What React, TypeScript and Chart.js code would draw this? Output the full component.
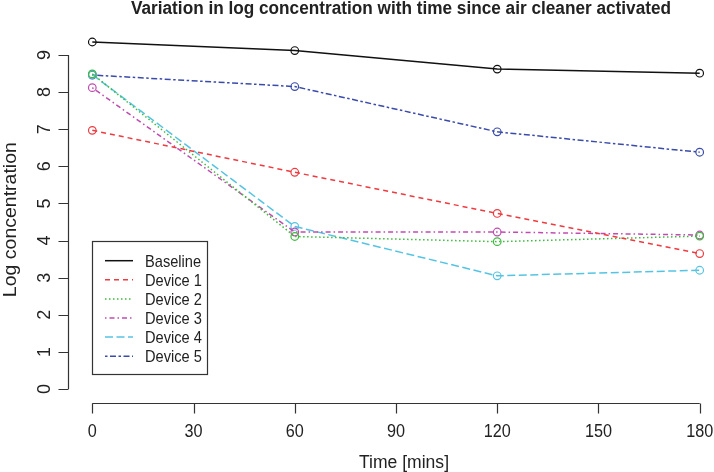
import React, { useEffect, useRef } from "react";
import { Chart, registerables } from "chart.js";

Chart.register(...registerables);

const TITLE = "Variation in log concentration with time since air cleaner activated";
const X_LABEL = "Time [mins]";
const Y_LABEL = "Log concentration";

const TIMES = [0, 60, 120, 180];
const X_TICKS = [0, 30, 60, 90, 120, 150, 180];
const Y_TICKS = [0, 1, 2, 3, 4, 5, 6, 7, 8, 9];

const SERIES_NAMES = ["Baseline", "Device 1", "Device 2", "Device 3", "Device 4", "Device 5"];
const BASELINE = [9.35, 9.12, 8.62, 8.51];
const DEVICE_1 = [6.97, 5.84, 4.73, 3.65];
const DEVICE_2 = [8.49, 4.11, 3.97, 4.12];
const DEVICE_3 = [8.12, 4.23, 4.23, 4.15];
const DEVICE_4 = [8.47, 4.38, 3.05, 3.2];
const DEVICE_5 = [8.46, 8.15, 6.93, 6.38];

const SERIES_VALUES = [BASELINE, DEVICE_1, DEVICE_2, DEVICE_3, DEVICE_4, DEVICE_5];
const COLORS = ["#111111", "#EE3A40", "#3DBB3D", "#C04CB0", "#55C4E2", "#3A4BAA"];
const DASHES: number[][] = [[], [5, 4], [1.5, 2.5], [1.5, 3, 5, 3], [8, 3.5], [2.5, 2.5, 6, 2.5]];

const TEXT_COLOR = "#222222";
const FONT = "'Liberation Sans', Arial, sans-serif";

function drawText(ctx: CanvasRenderingContext2D, text: string, x: number, y: number, font: string, sx: number, align: CanvasTextAlign, baseline: CanvasTextBaseline) {
  ctx.save();
  ctx.font = font;
  ctx.textAlign = align;
  ctx.textBaseline = baseline;
  ctx.fillStyle = TEXT_COLOR;
  ctx.translate(x, y);
  ctx.scale(sx, 1);
  ctx.fillText(text, 0, 0);
  ctx.restore();
}

const rAxesPlugin = {
  id: "rAxes",
  afterDraw(chart: any) {
    const ctx: CanvasRenderingContext2D = chart.ctx;
    const xs = chart.scales.x;
    const ys = chart.scales.y;
    const area = chart.chartArea;
    ctx.save();
    ctx.strokeStyle = "#333333";
    ctx.lineWidth = 1.2;
    ctx.setLineDash([]);

    // x axis
    const xAxisY = Math.round(area.bottom) + 0.5;
    const x0 = xs.getPixelForValue(X_TICKS[0]);
    const x1 = xs.getPixelForValue(X_TICKS[X_TICKS.length - 1]);
    ctx.beginPath();
    ctx.moveTo(x0, xAxisY);
    ctx.lineTo(x1, xAxisY);
    X_TICKS.forEach((t) => {
      const px = Math.round(xs.getPixelForValue(t)) + 0.5;
      ctx.moveTo(px, xAxisY);
      ctx.lineTo(px, xAxisY + 10);
    });
    ctx.stroke();
    X_TICKS.forEach((t) => {
      const px = xs.getPixelForValue(t);
      drawText(ctx, String(t), px, xAxisY + 33, `18px ${FONT}`, 0.9, "center", "alphabetic");
    });

    // y axis
    const yAxisX = Math.round(area.left) + 0.5;
    const y0 = ys.getPixelForValue(Y_TICKS[0]);
    const y1 = ys.getPixelForValue(Y_TICKS[Y_TICKS.length - 1]);
    ctx.beginPath();
    ctx.moveTo(yAxisX, y0);
    ctx.lineTo(yAxisX, y1);
    Y_TICKS.forEach((t) => {
      const py = Math.round(ys.getPixelForValue(t)) + 0.5;
      ctx.moveTo(yAxisX, py);
      ctx.lineTo(yAxisX - 10, py);
    });
    ctx.stroke();
    Y_TICKS.forEach((t) => {
      const py = ys.getPixelForValue(t);
      ctx.save();
      ctx.translate(50, py);
      ctx.rotate(-Math.PI / 2);
      ctx.font = `18px ${FONT}`;
      ctx.textAlign = "center";
      ctx.textBaseline = "alphabetic";
      ctx.fillStyle = TEXT_COLOR;
      ctx.fillText(String(t), 0, 0);
      ctx.restore();
    });

    // title
    ctx.save();
    ctx.font = `bold 18px ${FONT}`;
    const tw = ctx.measureText(TITLE).width;
    ctx.restore();
    drawText(ctx, TITLE, 401, 14, `bold 18px ${FONT}`, 540 / tw, "center", "alphabetic");

    // x label
    ctx.save();
    ctx.font = `18px ${FONT}`;
    const xw = ctx.measureText(X_LABEL).width;
    ctx.restore();
    drawText(ctx, X_LABEL, 404, 468, `18px ${FONT}`, 90 / xw, "center", "alphabetic");

    // y label
    ctx.save();
    ctx.font = `18px ${FONT}`;
    const yw = ctx.measureText(Y_LABEL).width;
    ctx.translate(16, (area.top + area.bottom) / 2 + 8);
    ctx.rotate(-Math.PI / 2);
    ctx.scale(155 / yw, 1);
    ctx.textAlign = "center";
    ctx.textBaseline = "alphabetic";
    ctx.fillStyle = TEXT_COLOR;
    ctx.fillText(Y_LABEL, 0, 0);
    ctx.restore();

    // legend
    ctx.strokeStyle = "#333333";
    ctx.lineWidth = 1.2;
    ctx.setLineDash([]);
    ctx.strokeRect(92.5, 241.5, 115, 133);
    chart.data.datasets.forEach((ds: any, i: number) => {
      const ry = 260.7 + i * 19.1;
      ctx.save();
      ctx.strokeStyle = ds.borderColor;
      ctx.lineWidth = ds.borderWidth;
      ctx.setLineDash(ds.borderDash || []);
      ctx.beginPath();
      ctx.moveTo(105, ry);
      ctx.lineTo(133, ry);
      ctx.stroke();
      ctx.restore();
      drawText(ctx, ds.label, 145, ry + 6, `17px ${FONT}`, 0.86, "left", "alphabetic");
    });
    ctx.restore();
  },
};

export default function App() {
  const ref = useRef<HTMLCanvasElement | null>(null);
  useEffect(() => {
    if (!ref.current) return;
    const datasets = SERIES_NAMES.map((name, i) => ({
      label: name,
      data: TIMES.map((t, j) => ({ x: t, y: SERIES_VALUES[i][j] })),
      borderColor: COLORS[i],
      backgroundColor: "rgba(0,0,0,0)",
      borderWidth: 1.5,
      borderDash: DASHES[i],
      pointStyle: "circle",
      pointRadius: 3.8,
      pointBorderWidth: 1.2,
      pointBorderColor: COLORS[i],
      pointBackgroundColor: "rgba(0,0,0,0)",
      showLine: true,
      tension: 0,
      fill: false,
    }));
    const chart = new Chart(ref.current, {
      type: "scatter",
      data: { datasets },
      options: {
        animation: false,
        responsive: false,
        devicePixelRatio: 1,
        layout: { padding: { left: 68, right: 0, top: 20, bottom: 68.7 } },
        plugins: { legend: { display: false }, tooltip: { enabled: false }, title: { display: false } },
        scales: {
          x: { type: "linear", display: false, min: -7.2, max: 182.7 },
          y: { type: "linear", display: false, min: -0.385, max: 9.943 },
        },
      },
      plugins: [rAxesPlugin],
    } as any);
    return () => chart.destroy();
  }, []);
  return (
    <div style={{ position: "fixed", left: 0, top: 0, width: 714, height: 472, background: "#ffffff" }}>
      <canvas ref={ref} width={714} height={472} style={{ width: 714, height: 472, display: "block" }} />
    </div>
  );
}
